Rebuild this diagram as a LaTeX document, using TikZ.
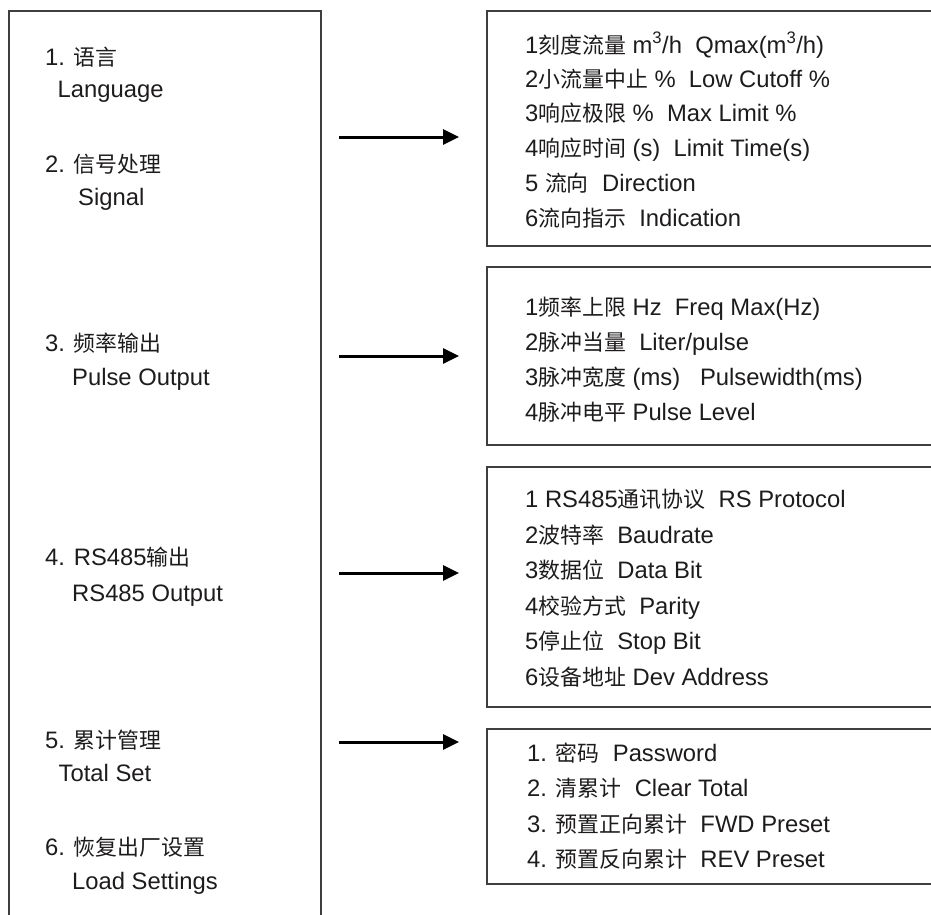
\documentclass[tikz,border=0pt]{standalone}
\usepackage{fontspec}
\setmainfont{Liberation Sans}
\newfontfamily\cjkfont{Noto Sans CJK SC}[Scale=0.92]
\usetikzlibrary{arrows.meta}
\newcommand{\zh}[1]{{\cjkfont #1}}
\definecolor{ink}{HTML}{1E1B1C}
\definecolor{frame}{HTML}{3F3F3F}
\begin{document}
\begin{tikzpicture}[x=1pt,y=-1pt,
  txt/.style={anchor=base west, inner sep=0pt, text=ink, font=\fontsize{23.8}{28}\selectfont},
  box/.style={draw=frame, line width=1.4pt, rectangle, inner sep=0pt, minimum width=473pt},
  arr/.style={draw=black, line width=3pt, -{Triangle[length=16pt,width=15pt]}}]
\useasboundingbox (0,0) rectangle (931,914);
\begin{scope}
\clip (0,0) rectangle (931,914);
% frames
\node[box, minimum width=312pt, minimum height=939pt] (menu) at (165,480.5) {};
\node[box, minimum height=235pt] (b1) at (723.5,128.5) {};
\node[box, minimum height=178pt] (b2) at (723.5,356) {};
\node[box, minimum height=240pt] (b3) at (723.5,587) {};
\node[box, minimum height=155pt] (b4) at (723.5,806.5) {};
\end{scope}

% left menu
\node[txt] (m1) at (45,65) {1. \zh{语言}};
\node[txt] (m1e) at (57.5,97) {Language};
\node[txt] (m2) at (45,172) {2. \zh{信号处理}};
\node[txt] (m2e) at (78,205) {Signal};
\node[txt] (m3) at (45,351) {3. \zh{频率输出}};
\node[txt] (m3e) at (72,385) {Pulse Output};
\node[txt] (m4) at (45,565) {4. RS485\zh{输出}};
\node[txt] (m4e) at (72,601) {RS485 Output};
\node[txt] (m5) at (45,748) {5. \zh{累计管理}};
\node[txt] (m5e) at (58.5,781) {Total Set};
\node[txt] (m6) at (45,855) {6. \zh{恢复出厂设置}};
\node[txt] (m6e) at (72,889) {Load Settings};

% box 1
\node[txt] (s1) at (525,53) {1\zh{刻度流量} m\textsuperscript{3}/h~~Qmax(m\textsuperscript{3}/h)};
\node[txt] (s2) at (525,87) {2\zh{小流量中止} \%~~Low Cutoff \%};
\node[txt] (s3) at (525,121) {3\zh{响应极限} \%~~Max Limit \%};
\node[txt] (s4) at (525,156) {4\zh{响应时间} (s)~~Limit Time(s)};
\node[txt] (s5) at (525,191) {5 \zh{流向}~~Direction};
\node[txt] (s6) at (525,226) {6\zh{流向指示}~~Indication};

% box 2
\node[txt] (p1) at (525,315) {1\zh{频率上限} Hz~~Freq Max(Hz)};
\node[txt] (p2) at (525,350) {2\zh{脉冲当量}~~Liter/pulse};
\node[txt] (p3) at (525,385) {3\zh{脉冲宽度} (ms)~~~Pulsewidth(ms)};
\node[txt] (p4) at (525,420) {4\zh{脉冲电平} Pulse Level};

% box 3
\node[txt] (r1) at (525,507) {1 RS485\zh{通讯协议}~~RS Protocol};
\node[txt] (r2) at (525,543) {2\zh{波特率}~~Baudrate};
\node[txt] (r3) at (525,578) {3\zh{数据位}~~Data Bit};
\node[txt] (r4) at (525,614) {4\zh{校验方式}~~Parity};
\node[txt] (r5) at (525,649) {5\zh{停止位}~~Stop Bit};
\node[txt] (r6) at (525,685) {6\zh{设备地址} Dev Address};

% box 4
\node[txt] (t1) at (527,761) {1. \zh{密码}~~Password};
\node[txt] (t2) at (527,796) {2. \zh{清累计}~~Clear Total};
\node[txt] (t3) at (527,832) {3. \zh{预置正向累计}~~FWD Preset};
\node[txt] (t4) at (527,867) {4. \zh{预置反向累计}~~REV Preset};

% arrows
\coordinate (a1s) at (339,137); \coordinate (a1e) at (459,137);
\coordinate (a2s) at (339,356); \coordinate (a2e) at (459,356);
\coordinate (a3s) at (339,573); \coordinate (a3e) at (459,573);
\coordinate (a4s) at (339,742); \coordinate (a4e) at (459,742);
\draw[arr] (a1s) -- (a1e);
\draw[arr] (a2s) -- (a2e);
\draw[arr] (a3s) -- (a3e);
\draw[arr] (a4s) -- (a4e);
\end{tikzpicture}
\end{document}
